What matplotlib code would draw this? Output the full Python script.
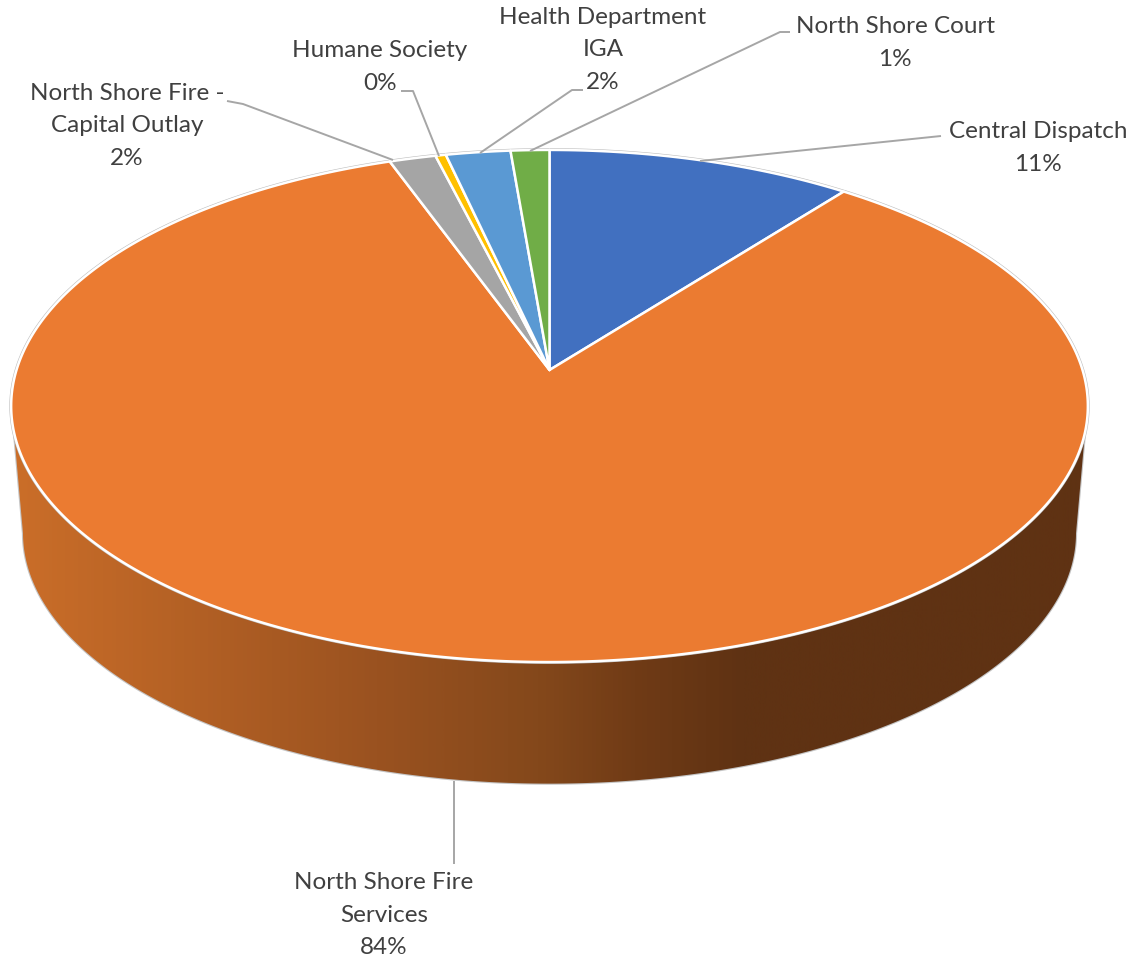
import numpy as np
import matplotlib
matplotlib.use("Agg")
import matplotlib.pyplot as plt
from matplotlib.colors import LinearSegmentedColormap
from matplotlib.patches import Polygon

# Budget shares, clockwise from twelve o'clock
categories = ["Central Dispatch", "North Shore Fire\nServices", "North Shore Fire -\nCapital Outlay",
              "Humane Society", "Health Department\nIGA", "North Shore Court"]
shares = [10.51, 83.98, 1.60, 0.36, 2.22, 1.33]
colors = ["#4170C0", "#EB7B31", "#A5A5A5", "#FFC000", "#5A99D3", "#70AD47"]

# Label centres and leader-line paths, one per category
label_xy = [(1038, 148), (384, 915), (127, 126), (380, 67), (603, 50), (895, 43)]
leaders = [
    [(700, 161), (941, 136)],
    [(454, 781), (454, 864)],
    [(393, 160), (243, 104), (227, 101)],
    [(439, 156), (413, 91), (401, 91)],
    [(480, 153), (572, 90), (583, 90)],
    [(530, 151), (780, 32), (790, 32)],
]

# Shading along the visible wall of the disc
wall_stops = [(0.0, "#CB6E29"), (0.34, "#9A5220"), (0.49, "#84481B"),
              (0.58, "#703B16"), (0.68, "#5F3213"), (1.0, "#5F3213")]

CX, CY, A, B, K = 549.5, 370.0, 533.0, 251.0, 0.1406


def project(theta, scale=1.0, cy=CY):
    """Perspective view of a unit circle; theta runs clockwise from the far side."""
    u, v = np.sin(theta), -np.cos(theta)
    w = 1 - K * v
    return np.column_stack((CX + scale * A * u / w, cy + scale * B * v / w))


fig = plt.figure(figsize=(11.39, 9.6), dpi=100)
ax = fig.add_axes([0, 0, 1, 1])
ax.set_xlim(0, 1139)
ax.set_ylim(960, 0)
ax.axis("off")

# Wall: front of the top rim down to the bottom rim
rim_limit = np.arcsin(0.971)
top_front = project(np.linspace(np.pi - rim_limit, np.pi + rim_limit, 300))
bottom_limit = np.arcsin(0.99)
bottom_front = project(np.linspace(np.pi + bottom_limit, np.pi - bottom_limit, 300), 0.978, 498.0)
wall = np.vstack((top_front, bottom_front))
wall_outline = Polygon(wall, closed=True, facecolor="none", edgecolor="#C4C4C4", lw=1.6, zorder=1)
ax.add_patch(wall_outline)
wall_clip = Polygon(wall, closed=True, transform=ax.transData, facecolor="none", edgecolor="none")
ax.add_patch(wall_clip)
wall_cmap = LinearSegmentedColormap.from_list("wall", wall_stops)
gradient = ax.imshow(np.linspace(0, 1, 1100)[None, :], cmap=wall_cmap, vmin=0, vmax=1,
                     extent=(10, 1090, 800, 420), aspect="auto", zorder=2)
gradient.set_clip_path(wall_clip)
ax.set_xlim(0, 1139)
ax.set_ylim(960, 0)

# Faint grey halo around the top face
full_rim = project(np.linspace(0, 2 * np.pi, 720))
ax.add_patch(Polygon(full_rim, closed=True, facecolor="none", edgecolor="#BEBEBE", lw=2.6, zorder=3))

# Top-face slices
edges = np.deg2rad(np.cumsum([0] + shares) * 3.6)
for start, end, colour in zip(edges[:-1], edges[1:], colors):
    arc = project(np.linspace(start, end, max(int((end - start) * 120), 3)))
    ax.add_patch(Polygon(np.vstack(([[CX, CY]], arc)), closed=True, facecolor=colour,
                         edgecolor="white", lw=1.8, joinstyle="round", zorder=4))

# Leader lines and labels
for name, share, (tx, ty), path in zip(categories, shares, label_xy, leaders):
    xs, ys = zip(*path)
    ax.plot(xs, ys, color="#A6A6A6", lw=1.4, solid_capstyle="butt", zorder=5)
    ax.text(tx, ty, f"{name}\n{share:.0f}%", ha="center", va="center", multialignment="center",
            family="Lato", fontsize=17.5, color="#404040", linespacing=1.67, zorder=6)

fig.savefig("out.png", dpi=100)
